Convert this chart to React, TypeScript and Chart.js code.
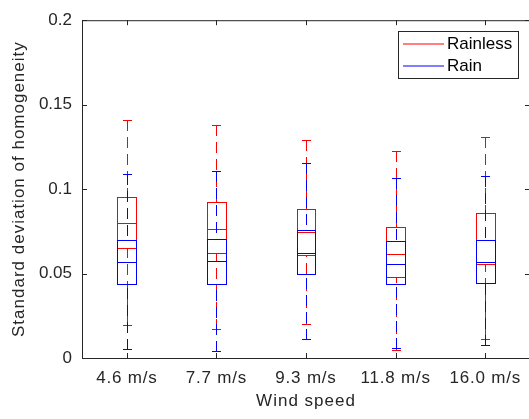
import React, { useEffect, useRef } from "react";
import { Chart, registerables } from "chart.js";

Chart.register(...registerables);

// ---- data ----
const categories = ["4.6 m/s", "7.7 m/s", "9.3 m/s", "11.8 m/s", "16.0 m/s"];
const xTickValues = [1, 2, 3, 4, 5];
const yTickValues = [0, 0.05, 0.1, 0.15, 0.2];
const yTickLabels = ["0", "0.05", "0.1", "0.15", "0.2"];
const seriesNames = ["Rainless", "Rain"];

const rainlessMin = [0.0198, 0.0171, 0.0203, 0.0045, 0.0112];
const rainlessQ1 = [0.0651, 0.062, 0.0612, 0.0479, 0.0554];
const rainlessMedian = [0.0798, 0.0764, 0.0744, 0.0614, 0.0701];
const rainlessQ3 = [0.0952, 0.0924, 0.0884, 0.0777, 0.0858];
const rainlessMax = [0.1409, 0.138, 0.1291, 0.1223, 0.131];

const rainMin = [0.0054, 0.0041, 0.0112, 0.0058, 0.0076];
const rainQ1 = [0.044, 0.0438, 0.0498, 0.0438, 0.0444];
const rainMedian = [0.0566, 0.0577, 0.0622, 0.0556, 0.0566];
const rainQ3 = [0.07, 0.0705, 0.076, 0.069, 0.0701];
const rainMax = [0.1089, 0.1106, 0.1155, 0.1068, 0.1079];

// ---- styles ----
const FONT = '"Liberation Sans", Arial, Helvetica, sans-serif';
const AXIS = "#262626";
const COLORS = ["#ff0000", "#0000ff"];
const BOX_HALF = 0.105;
const CAP_HALF = 0.045;
const TICK_LEN = 5;

const series = [
  { name: seriesNames[0], color: COLORS[0], min: rainlessMin, q1: rainlessQ1, med: rainlessMedian, q3: rainlessQ3, max: rainlessMax },
  { name: seriesNames[1], color: COLORS[1], min: rainMin, q1: rainQ1, med: rainMedian, q3: rainQ3, max: rainMax },
];

const boxPlugin = {
  id: "boxplots",
  afterDatasetsDraw(chart: any) {
    const { ctx, scales } = chart;
    const x = scales.x;
    const y = scales.y;
    ctx.save();
    ctx.lineWidth = 1;
    series.forEach((s) => {
      ctx.strokeStyle = s.color;
      categories.forEach((_, i) => {
        const v = xTickValues[i];
        const cx = Math.round(x.getPixelForValue(v)) + 0.5;
        const lc = Math.round(x.getPixelForValue(v - BOX_HALF));
        const rc = Math.round(x.getPixelForValue(v + BOX_HALF));
        const cl = Math.round(x.getPixelForValue(v - CAP_HALF));
        const cr = Math.round(x.getPixelForValue(v + CAP_HALF));
        const yMin = Math.round(y.getPixelForValue(s.min[i]));
        const yQ1 = Math.round(y.getPixelForValue(s.q1[i]));
        const yMed = Math.round(y.getPixelForValue(s.med[i]));
        const yQ3 = Math.round(y.getPixelForValue(s.q3[i]));
        const yMax = Math.round(y.getPixelForValue(s.max[i]));
        // whiskers (dashed), drawn from cap towards box
        ctx.setLineDash([11, 6]);
        ctx.beginPath();
        ctx.moveTo(cx, yMax);
        ctx.lineTo(cx, yQ3);
        ctx.stroke();
        ctx.beginPath();
        ctx.moveTo(cx, yMin + 1);
        ctx.lineTo(cx, yQ1 + 1);
        ctx.stroke();
        ctx.setLineDash([]);
        // caps
        ctx.beginPath();
        ctx.moveTo(cl, yMax + 0.5);
        ctx.lineTo(cr + 1, yMax + 0.5);
        ctx.moveTo(cl, yMin + 0.5);
        ctx.lineTo(cr + 1, yMin + 0.5);
        ctx.stroke();
        // box
        ctx.strokeRect(lc + 0.5, yQ3 + 0.5, rc - lc, yQ1 - yQ3);
        // median
        ctx.beginPath();
        ctx.moveTo(lc, yMed + 0.5);
        ctx.lineTo(rc + 1, yMed + 0.5);
        ctx.stroke();
      });
    });
    ctx.restore();
  },
  afterDraw(chart: any) {
    const { ctx, chartArea, scales } = chart;
    const { left, right, top, bottom } = chartArea;
    ctx.save();
    ctx.lineWidth = 1;
    ctx.strokeStyle = AXIS;
    ctx.setLineDash([]);
    // axes box
    ctx.strokeRect(left + 0.5, top + 0.5, right - left, bottom - top);
    // inward ticks
    ctx.beginPath();
    xTickValues.forEach((v) => {
      const px = Math.round(scales.x.getPixelForValue(v)) + 0.5;
      ctx.moveTo(px, bottom);
      ctx.lineTo(px, bottom - TICK_LEN);
      ctx.moveTo(px, top);
      ctx.lineTo(px, top + TICK_LEN);
    });
    yTickValues.forEach((v) => {
      const py = Math.round(scales.y.getPixelForValue(v)) + 0.5;
      ctx.moveTo(left, py);
      ctx.lineTo(left + TICK_LEN, py);
      ctx.moveTo(right, py);
      ctx.lineTo(right - TICK_LEN, py);
    });
    ctx.stroke();

    // legend
    const lw = 120;
    const lh = 47;
    const lx = Math.round(right - 12 - lw);
    const ly = Math.round(top + 11);
    ctx.fillStyle = "#ffffff";
    ctx.fillRect(lx, ly, lw, lh);
    ctx.strokeStyle = AXIS;
    ctx.strokeRect(lx + 0.5, ly + 0.5, lw, lh);
    ctx.font = `17px ${FONT}`;
    ctx.textBaseline = "middle";
    ctx.textAlign = "left";
    series.forEach((s, k) => {
      const rowY = ly + 13 + k * 22;
      ctx.strokeStyle = s.color;
      ctx.beginPath();
      ctx.moveTo(lx + 5, rowY);
      ctx.lineTo(lx + 46, rowY);
      ctx.stroke();
      ctx.fillStyle = "#000000";
      ctx.fillText(s.name, lx + 49, rowY);
    });
    ctx.restore();
  },
};

const spacingPlugin = {
  id: "letterSpacingPatch",
  beforeDraw(chart: any) {
    const patch = (scale: any, method: string, spacing: string) => {
      if (!scale || scale["__patched_" + method]) return;
      const orig = scale[method];
      scale[method] = function (...args: any[]) {
        const c = this.ctx;
        const prev = c.letterSpacing;
        c.letterSpacing = spacing;
        const r = orig.apply(this, args);
        c.letterSpacing = prev || "0px";
        return r;
      };
      scale["__patched_" + method] = true;
    };
    patch(chart.scales.x, "drawTitle", "1px");
    patch(chart.scales.y, "drawTitle", "1px");
    patch(chart.scales.x, "drawLabels", "0.8px");
  },
};

export default function App() {
  const ref = useRef<HTMLCanvasElement | null>(null);
  useEffect(() => {
    if (!ref.current) return;
    const chart = new Chart(ref.current, {
      type: "line",
      data: {
        datasets: series.map((s) => ({
          label: s.name,
          data: s.med.map((m, i) => ({ x: xTickValues[i], y: m })),
          borderColor: s.color,
          backgroundColor: s.color,
          showLine: false,
          pointRadius: 0,
        })),
      },
      options: {
        responsive: false,
        maintainAspectRatio: false,
        devicePixelRatio: 1,
        animation: false,
        events: [],
        layout: { padding: { top: 14, right: 6, left: 0, bottom: 0 } },
        plugins: { legend: { display: false }, tooltip: { enabled: false } },
        scales: {
          x: {
            type: "linear",
            min: 0.5,
            max: 5.5,
            grid: { display: false, tickLength: 0 },
            border: { display: false },
            afterBuildTicks: (s: any) => {
              s.ticks = xTickValues.map((v) => ({ value: v }));
            },
            afterFit: (s: any) => {
              s.height = 61;
            },
            ticks: {
              autoSkip: false,
              maxRotation: 0,
              minRotation: 0,
              padding: 10,
              color: AXIS,
              font: { family: FONT, size: 17 },
              callback: (_v: any, idx: number) => categories[idx],
            },
            title: {
              display: true,
              text: "Wind speed",
              color: AXIS,
              font: { family: FONT, size: 17 },
              padding: { top: 0, bottom: 7 },
            },
          },
          y: {
            type: "linear",
            min: 0,
            max: 0.2,
            grid: { display: false, tickLength: 0 },
            border: { display: false },
            afterBuildTicks: (s: any) => {
              s.ticks = yTickValues.map((v) => ({ value: v }));
            },
            afterFit: (s: any) => {
              s.width = 82;
            },
            ticks: {
              padding: 10,
              color: AXIS,
              font: { family: FONT, size: 17 },
              callback: (_v: any, idx: number) => yTickLabels[idx],
            },
            title: {
              display: true,
              text: "Standard deviation of homogeneity",
              color: AXIS,
              font: { family: FONT, size: 17 },
              padding: { top: 9, bottom: 0 },
            },
          },
        },
      },
      plugins: [spacingPlugin, boxPlugin],
    } as any);
    return () => chart.destroy();
  }, []);

  return (
    <div
      style={{
        position: "fixed",
        left: 0,
        top: 0,
        width: 529,
        height: 419,
        overflow: "hidden",
        background: "#ffffff",
      }}
    >
      <canvas ref={ref} width={536} height={419} style={{ display: "block", width: 536, height: 419 }} />
    </div>
  );
}
